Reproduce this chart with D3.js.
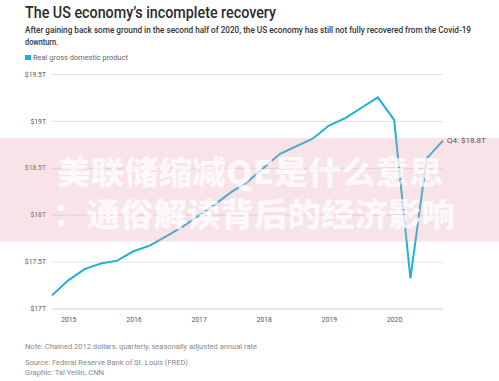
<!DOCTYPE html>
<html><head><meta charset="utf-8">
<script src="https://cdn.jsdelivr.net/npm/d3@7"></script>
<style>
html,body{margin:0;padding:0;background:#fff;}
svg{display:block;}
</style></head>
<body>
<svg id="chart" width="499" height="381"></svg>
<script>
// ---- data ----
const quarters = ["2014 Q4","2015 Q1","2015 Q2","2015 Q3","2015 Q4","2016 Q1","2016 Q2","2016 Q3","2016 Q4",
  "2017 Q1","2017 Q2","2017 Q3","2017 Q4","2018 Q1","2018 Q2","2018 Q3","2018 Q4",
  "2019 Q1","2019 Q2","2019 Q3","2019 Q4","2020 Q1","2020 Q2","2020 Q3","2020 Q4"];
const gdp = [17.14,17.30,17.42,17.48,17.51,17.61,17.67,17.77,17.87,
  17.99,18.11,18.24,18.35,18.50,18.65,18.73,18.81,
  18.95,19.03,19.14,19.25,19.01,17.32,18.60,18.79];
const yTicks = [17,17.5,18,18.5,19,19.5];
const yTickLabels = ["$17T","$17.5T","$18T","$18.5T","$19T","$19.5T"];
const xYears = ["2015","2016","2017","2018","2019","2020"];
const seriesName = "Real gross domestic product";
const endLabel = "Q4: $18.8T";
const title = "The US economy\u2019s incomplete recovery";
const subtitle1 = "After gaining back some ground in the second half of 2020, the US economy has still not fully recovered from the Covid-19";
const subtitle2 = "downturn.";
const note = "Note: Chained 2012 dollars, quarterly, seasonally adjusted annual rate";
const source = "Source: Federal Reserve Bank of St. Louis (FRED)";
const graphic = "Graphic: Tal Yellin, CNN";
const overlay1 = "美联储缩减QE是什么意思";
const overlay2 = "：通俗解读背后的经济影响";

// ---- chart ----
const svg = d3.select("#chart");
const font = "Roboto, 'Noto Sans', sans-serif";
const lineColor = "#1fb0d3";

const x = d3.scalePoint().domain(quarters).range([52, 443]);
const y = d3.scaleLinear().domain([17, 19.5]).range([308.5, 74]);

// title
svg.append("text").attr("x", 25).attr("y", 18)
  .attr("font-family", font).attr("font-size", 16.5).attr("font-weight", 500)
  .attr("fill", "#2b2b2b").attr("textLength", 251).attr("lengthAdjust", "spacingAndGlyphs")
  .text(title);
svg.append("text").attr("x", 25).attr("y", 33)
  .attr("font-family", font).attr("font-size", 8.6).attr("font-weight", 500)
  .attr("fill", "#333").attr("textLength", 446).attr("lengthAdjust", "spacingAndGlyphs")
  .text(subtitle1);
svg.append("text").attr("x", 25).attr("y", 45)
  .attr("font-family", font).attr("font-size", 8.6).attr("font-weight", 500)
  .attr("fill", "#333").attr("textLength", 33).attr("lengthAdjust", "spacingAndGlyphs")
  .text(subtitle2);

// legend
svg.append("rect").attr("x", 25).attr("y", 55).attr("width", 6).attr("height", 5).attr("fill", lineColor);
svg.append("text").attr("x", 33).attr("y", 59.5)
  .attr("font-family", font).attr("font-size", 7).attr("fill", "#666")
  .attr("textLength", 95).attr("lengthAdjust", "spacingAndGlyphs")
  .text(seriesName);

// y axis with gridlines
const yAxis = d3.axisLeft(y).tickValues(yTicks)
  .tickFormat((d, i) => yTickLabels[i])
  .tickSize(-(443 - 52)).tickPadding(6);
const gy = svg.append("g").attr("transform", "translate(52,0)").call(yAxis);
gy.select(".domain").remove();
gy.selectAll(".tick line").attr("stroke", "#e2e2e2").attr("stroke-width", 1);
gy.selectAll(".tick text").attr("font-family", font).attr("font-size", 6.8).attr("fill", "#555");
gy.selectAll(".tick").filter(d => d === 17).select("line").attr("stroke", "#d4d4d4");

// x axis labels
const gx = svg.append("g").attr("transform", "translate(0,309)")
  .call(d3.axisBottom(x).tickValues(xYears.map(yy => yy + " Q1")).tickSize(0).tickPadding(8)
    .tickFormat(d => d.slice(0, 4)));
gx.select(".domain").remove();
gx.selectAll(".tick text").attr("font-family", font).attr("font-size", 6.8).attr("fill", "#555");

// line
const line = d3.line().x((d, i) => x(quarters[i])).y(d => y(d));
svg.append("path").datum(gdp).attr("d", line)
  .attr("fill", "none").attr("stroke", lineColor).attr("stroke-width", 2)
  .attr("stroke-linejoin", "miter");

// end label
const last = gdp.length - 1;
svg.append("text").attr("x", x(quarters[last]) + 4).attr("y", y(gdp[last]) + 2.5)
  .attr("font-family", font).attr("font-size", 8).attr("fill", "#333")
  .text(endLabel);

// footer
const foot = [[note, 346.5, 232], [source, 362.5, 163], [graphic, 372.5, 79]];
foot.forEach(([t, yy, w]) => {
  svg.append("text").attr("x", 25).attr("y", yy + 2)
    .attr("font-family", font).attr("font-size", 6.8).attr("fill", "#888")
    .attr("textLength", w).attr("lengthAdjust", "spacingAndGlyphs")
    .text(t);
});

// overlay band (watermark)
svg.append("rect").attr("x", 0).attr("y", 138).attr("width", 499).attr("height", 103.5)
  .attr("fill", "#e59ab0").attr("opacity", 0.28);
const cjk = "'Noto Sans CJK SC', sans-serif";
svg.append("text").attr("x", 57).attr("y", 184)
  .attr("font-family", cjk).attr("font-size", 32).attr("font-weight", 900)
  .attr("fill", "#fff").attr("opacity", 0.75)
  .attr("textLength", 386).attr("lengthAdjust", "spacingAndGlyphs")
  .text(overlay1);
svg.append("text").attr("x", 53).attr("y", 226)
  .attr("font-family", cjk).attr("font-size", 32).attr("font-weight", 900)
  .attr("fill", "#fff").attr("opacity", 0.75)
  .attr("textLength", 402).attr("lengthAdjust", "spacingAndGlyphs")
  .text(overlay2);
</script>
</body></html>
